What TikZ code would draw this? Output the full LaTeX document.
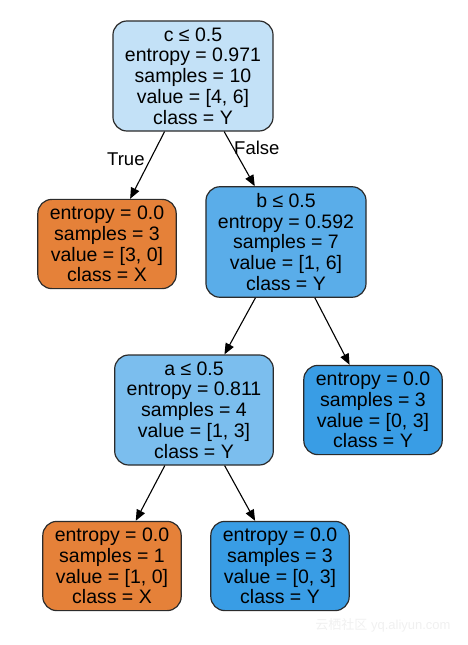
\documentclass[tikz,border=0pt]{standalone}
\usepackage{fontspec}
\setmainfont{Liberation Sans}
\newfontfamily\cjk{Noto Sans CJK SC}
\usetikzlibrary{arrows.meta}
\definecolor{leafX}{HTML}{E58139}
\definecolor{leafY}{HTML}{399DE5}
\definecolor{rootY}{HTML}{C3E1F7}
\definecolor{midY}{HTML}{5AADE9}
\definecolor{lowY}{HTML}{7BBEEE}
\definecolor{edge}{HTML}{2B2B2B}
\begin{document}
\begin{tikzpicture}[x=1pt,y=-1pt,
  tree/.style={draw=edge,line width=1.2pt,rounded corners=14pt,align=center,
    inner xsep=12pt,inner ysep=6.5pt,font=\fontsize{19.5}{20.8}\selectfont},
  arc/.style={-{Triangle[length=11pt,width=9pt]},line width=1.1pt},
  lab/.style={font=\fontsize{18.5}{20}\selectfont}]
\useasboundingbox (0,0) rectangle (468,645);
% split nodes
\node[tree,fill=rootY] (c) at (193,76) {c ≤ 0.5\\entropy = 0.971\\samples = 10\\value = [4, 6]\\class = Y};
\node[tree,fill=midY] (b) at (286,242) {b ≤ 0.5\\entropy = 0.592\\samples = 7\\value = [1, 6]\\class = Y};
\node[tree,fill=lowY] (a) at (194,410) {a ≤ 0.5\\entropy = 0.811\\samples = 4\\value = [1, 3]\\class = Y};
% leaves
\node[tree,fill=leafX] (x1) at (107,244) {entropy = 0.0\\samples = 3\\value = [3, 0]\\class = X};
\node[tree,fill=leafY] (y1) at (373,410) {entropy = 0.0\\samples = 3\\value = [0, 3]\\class = Y};
\node[tree,fill=leafX] (x2) at (112,566) {entropy = 0.0\\samples = 1\\value = [1, 0]\\class = X};
\node[tree,fill=leafY] (y2) at (280,566) {entropy = 0.0\\samples = 3\\value = [0, 3]\\class = Y};
% edges
\draw[arc] (c) -- node[lab,pos=0.41,left=2pt] {True} (x1);
\draw[arc] (c) -- node[lab,pos=0.3,right=-3pt] {False} (b);
\draw[arc] (b) -- (a);
\draw[arc] (b) -- (y1);
\draw[arc] (a) -- (x2);
\draw[arc] (a) -- (y2);
% watermark
\node[text=gray!12,font=\fontsize{13}{13}\selectfont] (wm) at (383,625) {{\cjk 云栖社区} yq.aliyun.com};
\end{tikzpicture}
\end{document}
